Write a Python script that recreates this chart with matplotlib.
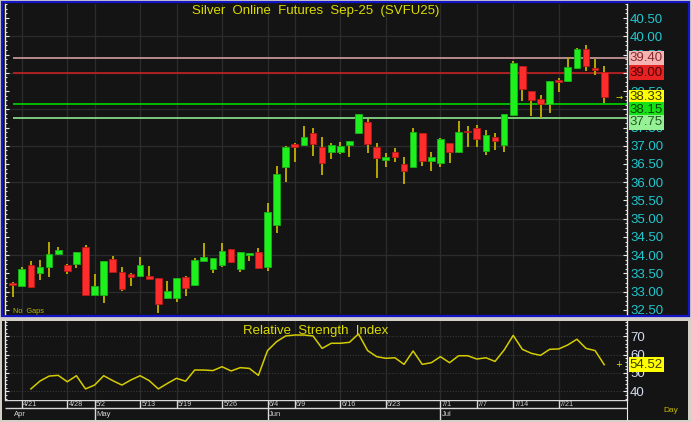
import numpy as np
import matplotlib
matplotlib.use('Agg')
import matplotlib.pyplot as plt
from matplotlib.ticker import MultipleLocator, FixedLocator, FormatStrFormatter
import matplotlib.transforms as mtransforms
from matplotlib.patches import Rectangle

plt.rcParams['font.family'] = ['Liberation Sans', 'DejaVu Sans']

# ---------------- data ----------------
dates = ['4/17', '4/21', '4/22', '4/23', '4/24', '4/25', '4/28', '4/29', '4/30', '5/2',
         '5/5', '5/6', '5/7', '5/8', '5/13', '5/14', '5/15', '5/16', '5/19', '5/20',
         '5/21', '5/22', '5/23', '5/26', '5/27', '5/28', '5/29', '5/30', '6/4', '6/5',
         '6/6', '6/9', '6/10', '6/11', '6/12', '6/13', '6/16', '6/17', '6/18', '6/19',
         '6/20', '6/23', '6/24', '6/25', '6/26', '6/27', '6/30', '7/1', '7/2', '7/3',
         '7/4', '7/7', '7/8', '7/9', '7/10', '7/14', '7/15', '7/16', '7/17', '7/18',
         '7/21', '7/22', '7/23', '7/24', '7/25', '7/28']

opens = [33.25, 33.17, 33.73, 33.52, 33.67, 34.03, 33.73, 33.77, 34.23, 32.92,
         32.92, 33.89, 33.54, 33.49, 33.42, 33.43, 33.37, 32.82, 32.82, 33.40,
         33.18, 33.84, 33.61, 33.73, 34.16, 33.61, 34.00, 34.09, 33.67, 34.82,
         36.43, 37.05, 37.03, 37.34, 36.97, 36.83, 36.84, 37.02, 37.36, 37.66,
         36.97, 36.60, 36.84, 36.51, 36.43, 37.34, 36.58, 36.52, 37.07, 36.82,
         37.40, 37.49, 36.86, 37.25, 37.02, 37.84, 39.18, 38.50, 38.28, 38.15,
         38.80, 38.77, 39.12, 39.64, 39.12, 39.03]
highs = [33.27, 33.69, 33.84, 33.87, 34.36, 34.23, 33.75, 34.10, 34.27, 33.49,
         33.85, 33.98, 33.67, 33.50, 33.94, 33.71, 33.38, 33.29, 33.38, 33.42,
         33.93, 34.34, 33.93, 34.34, 34.17, 34.10, 34.06, 34.19, 35.44, 36.45,
         36.98, 37.07, 37.54, 37.49, 37.25, 37.08, 37.11, 37.14, 37.87, 37.72,
         37.08, 36.81, 36.93, 36.70, 37.48, 37.35, 36.84, 37.20, 37.08, 37.68,
         37.54, 37.57, 37.43, 37.34, 37.87, 39.32, 39.19, 38.51, 38.39, 38.78,
         38.86, 39.42, 39.69, 39.76, 39.37, 39.18]
lows = [32.86, 33.15, 33.10, 33.32, 33.41, 34.02, 33.49, 33.64, 32.91, 32.91,
        32.68, 33.53, 33.02, 33.17, 33.41, 33.34, 32.41, 32.81, 32.72, 32.89,
        33.17, 33.83, 33.52, 33.69, 33.78, 33.55, 33.84, 33.63, 33.58, 34.62,
        36.02, 36.56, 36.99, 36.73, 36.20, 36.63, 36.77, 36.70, 37.34, 36.79,
        36.12, 36.43, 36.56, 35.94, 36.41, 36.45, 36.32, 36.43, 36.52, 36.81,
        36.97, 36.97, 36.75, 36.88, 36.84, 37.81, 38.23, 37.82, 37.75, 37.91,
        38.48, 38.76, 39.11, 39.06, 38.94, 38.18]
closes = [33.18, 33.61, 33.12, 33.69, 34.03, 34.14, 33.57, 34.09, 32.92, 33.17,
          33.84, 33.54, 33.07, 33.41, 33.73, 33.35, 32.67, 33.01, 33.37, 33.09,
          33.87, 33.94, 33.92, 34.12, 33.82, 34.09, 34.05, 33.64, 35.18, 36.23,
          36.97, 36.97, 37.24, 37.05, 36.52, 37.02, 37.00, 37.13, 37.86, 37.05,
          36.67, 36.69, 36.70, 36.32, 37.37, 36.58, 36.69, 37.19, 36.82, 37.37,
          37.37, 37.18, 37.29, 37.13, 37.86, 39.26, 38.55, 38.25, 38.15, 38.77,
          38.75, 39.15, 39.64, 39.18, 39.08, 38.33]

rsi = [np.nan, np.nan, 41.3, 45.6, 48.3, 48.7, 45.2, 48.5, 41.3, 43.4,
       48.5, 45.8, 43.4, 46.2, 48.5, 45.8, 41.3, 44.3, 47.1, 45.5,
       51.6, 51.6, 51.3, 53.4, 51.1, 52.9, 52.5, 48.7, 62.2, 67.1,
       70.2, 70.7, 70.7, 70.2, 63.4, 66.2, 66.2, 66.7, 71.3, 62.2,
       58.9, 58.0, 58.3, 54.7, 62.0, 54.7, 55.6, 58.9, 55.6, 59.4,
       59.4, 57.6, 58.3, 56.3, 62.5, 70.5, 62.9, 60.7, 59.6, 62.9,
       63.1, 65.3, 68.4, 63.4, 62.2, 54.52]

date_labels = ['4/21', '4/28', '5/2', '5/13', '5/19', '5/26', '6/4', '6/9',
               '6/16', '6/23', '7/1', '7/7', '7/14', '7/21']
month_labels = ['Apr', 'May', 'Jun', 'Jul']

levels = [39.40, 39.00, 38.15, 37.75]
level_line_colors = ['#c49494', '#b82020', '#00c800', '#86d886']
level_box_colors = ['#f4b4b4', '#e62222', '#18e018', '#96f096']
level_text_colors = ['#8a2a2a', '#500000', '#004400', '#1e5a1e']

title = 'Silver  Online  Futures  Sep-25  (SVFU25)'
rsi_title = 'Relative  Strength  Index'

# ---------------- layout helpers ----------------
W, H = 691, 422
BG = '#141414'


def rect(x0, y0, x1, y1):
    return [x0 / W, 1 - y1 / H, (x1 - x0) / W, (y1 - y0) / H]


fig = plt.figure(figsize=(W / 100, H / 100), dpi=100, facecolor='#d4d0c8')

# panel backgrounds
fig.add_artist(Rectangle((2 / W, 1 - 316 / H), 687 / W, 314 / H, transform=fig.transFigure,
                         facecolor=BG, edgecolor='#1414c8', linewidth=1.6, zorder=0))
fig.add_artist(Rectangle((2 / W, 1 - 420 / H), 686 / W, 99 / H, transform=fig.transFigure,
                         facecolor=BG, edgecolor='none', zorder=0))

n = len(closes)
x = np.arange(n)
o = np.array(opens)
c = np.array(closes)
hi = np.array(highs)
lo = np.array(lows)

xmin, xmax = -0.846, 67.47
tick_idx = [dates.index(d) for d in date_labels]

# ---------------- price panel ----------------
ax = fig.add_axes(rect(5, 4, 626.7, 314))
ax.set_facecolor(BG)
ax.set_xlim(xmin, xmax)
ax.set_ylim(32.39, 40.884)

for s in ['top', 'bottom']:
    ax.spines[s].set_visible(False)
for s in ['left', 'right']:
    ax.spines[s].set_color('#e8e8e8')
    ax.spines[s].set_linewidth(1.0)

ax.set_xticks(tick_idx)
ax.tick_params(axis='x', length=0, labelbottom=False)
ax.yaxis.set_major_locator(MultipleLocator(0.5))
ax.yaxis.set_minor_locator(MultipleLocator(0.125))
ax.yaxis.set_major_formatter(FormatStrFormatter('%.2f'))
ax.tick_params(axis='y', which='both', direction='in', left=True, right=True,
               labelleft=False, labelright=True, color='#e8e8e8')
ax.tick_params(axis='y', which='major', length=3.2, width=0.8, labelsize=9.5,
               labelcolor='#20c8d0', pad=2.5)
ax.tick_params(axis='y', which='minor', length=1.6, width=0.7)

for t in tick_idx:
    ax.axvline(t, color='#2c2c2c', lw=0.9, zorder=0.5)
for g in range(33, 41):
    ax.axhline(g, color='#2c2c2c', lw=0.9, zorder=0.5)

# level lines
for lv, lc in zip(levels, level_line_colors):
    ax.hlines(lv, 0, xmax, color=lc, lw=1.3, zorder=1)

# candles
up = c >= o
fill = np.where(up, '#1ef01e', '#ff2c2c')
edge = np.where(up, '#18b018', '#b81818')
ax.vlines(x, lo, hi, color='#b8a800', lw=1.4, zorder=2)
bottoms = np.minimum(o, c)
heights = np.maximum(np.abs(c - o), 0.035)
ax.bar(x, heights, bottom=bottoms, width=0.74, color=fill, edgecolor=edge,
       linewidth=0.6, zorder=3)

# current price arrow
ax.text(n - 1 + 1.6, c[-1], '→', color='#e0e000', fontsize=6, ha='center',
        va='center', family='DejaVu Sans', zorder=4)

ax.text(0.5, 0.977, title, transform=ax.transAxes, ha='center', va='center',
        color='#dcdc00', fontsize=9.5, zorder=5)
ax.text(0.0134, 0.008, 'No  Gaps', transform=ax.transAxes, ha='left', va='center',
        color='#b8b800', fontsize=5.3, zorder=5)

# level boxes with simple anti-overlap
fig.canvas.draw()
trans = mtransforms.blended_transform_factory(ax.transAxes, ax.transData)
entries = [(lv, bc, tc) for lv, bc, tc in zip(levels, level_box_colors, level_text_colors)]
entries.append((c[-1], '#ffff00', '#3a3a00'))
entries.sort(key=lambda e: -e[0])
prev_px = None
for lv, bc, tc in entries:
    ypx = ax.transData.transform((0, lv))[1]
    dy = 0.0
    if prev_px is not None and prev_px - ypx < 12.5:
        dy = (prev_px - 12.5) - ypx
    prev_px = ypx + dy
    ax.annotate(f'{lv:.2f}', xy=(1, lv), xycoords=trans, xytext=(3.2, dy),
                textcoords='offset pixels', ha='left', va='center', fontsize=9.5,
                color=tc, annotation_clip=False, zorder=6,
                bbox=dict(boxstyle='square,pad=0.1', fc=bc, ec='none'))

# ---------------- RSI panel ----------------
ar = fig.add_axes(rect(5, 321, 626.7, 400))
ar.set_facecolor(BG)
ar.set_xlim(xmin, xmax)
ar.set_ylim(35.25, 78.35)
for s in ['top', 'bottom']:
    ar.spines[s].set_visible(False)
for s in ['left', 'right']:
    ar.spines[s].set_color('#e8e8e8')
    ar.spines[s].set_linewidth(1.0)
ar.set_xticks(tick_idx)
ar.tick_params(axis='x', length=0, labelbottom=False)
ar.yaxis.set_major_locator(FixedLocator([40, 50, 60, 70]))
ar.yaxis.set_minor_locator(MultipleLocator(2))
ar.tick_params(axis='y', which='both', direction='in', left=True, right=True,
               labelleft=False, labelright=True, color='#e8e8e8')
ar.tick_params(axis='y', which='major', length=3.2, width=0.8, labelsize=9.5,
               labelcolor='#d4dcf0', pad=2.5)
ar.tick_params(axis='y', which='minor', length=1.6, width=0.7)
for t in tick_idx:
    ar.axvline(t, color='#2c2c2c', lw=0.9, zorder=0.5)
for g in [40, 50, 60, 70]:
    ar.axhline(g, color='#3a3a3a', lw=0.8, ls=(0, (1, 1.5)), zorder=0.5)

ar.plot(x, rsi, color='#d4cc00', lw=1.1, zorder=3)
ar.text(n - 1 + 1.6, rsi[-1], '+', color='#e0e000', fontsize=6, ha='center',
        va='center', family='DejaVu Sans', zorder=4)
ar.text(0.5, 0.877, rsi_title, transform=ar.transAxes, ha='center', va='center',
        color='#dcdc00', fontsize=9.5, zorder=5)
trans_r = mtransforms.blended_transform_factory(ar.transAxes, ar.transData)
ar.annotate(f'{rsi[-1]:.2f}', xy=(1, rsi[-1]), xycoords=trans_r, xytext=(3.2, 0),
            textcoords='offset pixels', ha='left', va='center', fontsize=9.5,
            color='#3a3a00', annotation_clip=False, zorder=6,
            bbox=dict(boxstyle='square,pad=0.1', fc='#ffff00', ec='none'))

# ---------------- date axis ----------------
ad = fig.add_axes(rect(5, 400, 626.7, 420))
ad.set_facecolor('none')
ad.set_xlim(xmin, xmax)
ad.set_ylim(20, 0)
for s in ['top', 'bottom', 'left']:
    ad.spines[s].set_visible(False)
ad.spines['right'].set_color('#e8e8e8')
ad.set_xticks([])
ad.set_yticks([])
line_c = '#d8d8d8'
ad.hlines([0.3, 8.4], xmin, xmax, color=line_c, lw=1.0)
for t, lab in zip(tick_idx, date_labels):
    ad.vlines(t, 0.3, 8.4, color=line_c, lw=1.0)
    ad.text(t + 0.14, 4.6, lab, color='#d0d0d0', fontsize=5.2, ha='left', va='center')

month_idx = []
for mi, m in enumerate(month_labels):
    prefix = str(mi + 4) + '/'
    first = next(i for i, d in enumerate(dates) if d.startswith(prefix))
    if mi > 0:
        first = next(dates.index(d) for d in date_labels if d.startswith(prefix))
    month_idx.append(first)
for mi, (t, lab) in enumerate(zip(month_idx, month_labels)):
    if mi > 0:
        ad.vlines(t, 8.4, 20, color=line_c, lw=1.0)
    ad.text(t + 0.14, 14.2, lab, color='#d0d0d0', fontsize=5.5, ha='left', va='center')

fig.text(663 / W, 1 - 410.5 / H, 'Day', color='#c8b800', fontsize=6, ha='left', va='center')

fig.savefig('out.png', dpi=100, facecolor=fig.get_facecolor())
